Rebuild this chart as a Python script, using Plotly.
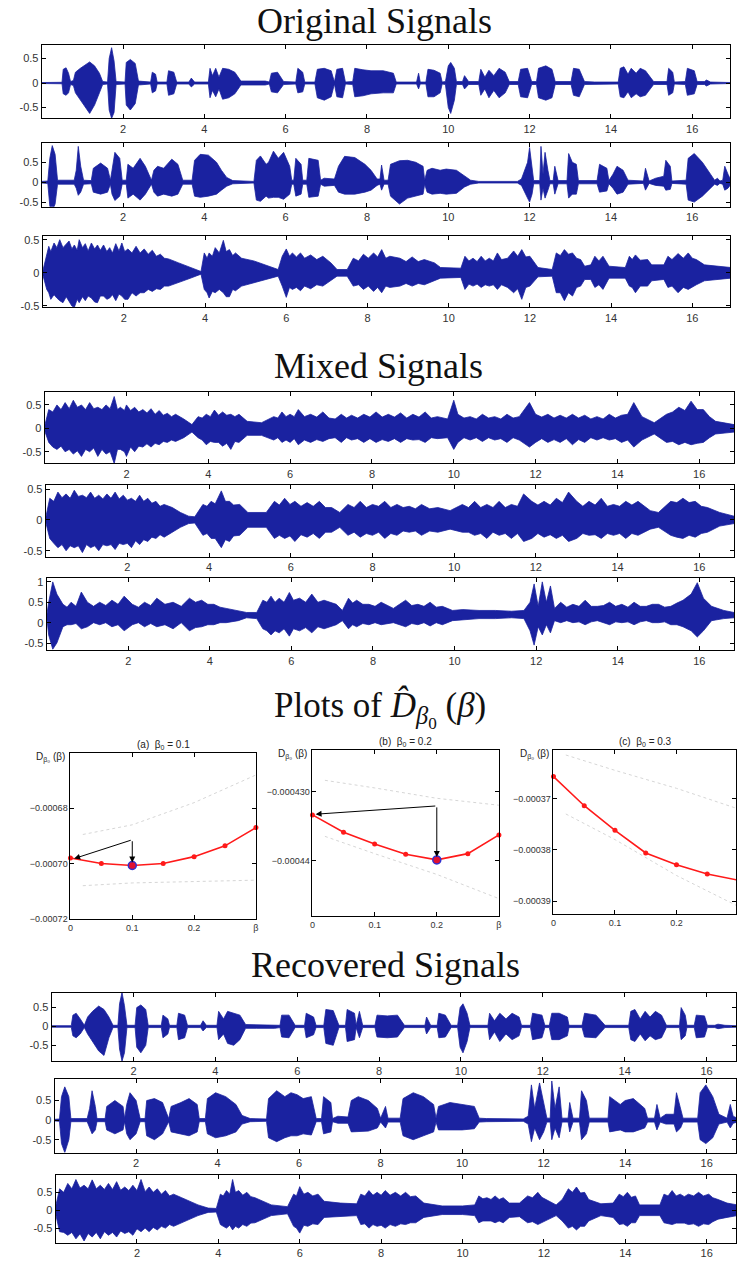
import plotly.graph_objects as go

W, H = 739, 1270
BLUE = "#1a22a0"
TICKFONT = dict(family="Liberation Sans, Arial", size=11, color="#333333")

# ---------------- data: signal envelopes (time s, upper, lower) -------------
O1 = [
(0.0,0.01,-0.01),(0.5,0.015,-0.015),(0.53,0.28,-0.22),(0.6,0.31,-0.25),(0.66,0.2,-0.2),(0.71,0.03,-0.03),
(0.78,0.05,-0.05),(0.83,0.22,-0.2),(0.95,0.3,-0.35),(1.08,0.38,-0.5),(1.18,0.43,-0.62),(1.3,0.35,-0.45),(1.42,0.2,-0.2),(1.5,0.03,-0.03),
(1.62,0.02,-0.02),(1.66,0.5,-0.55),(1.72,0.72,-0.72),(1.78,0.45,-0.6),(1.83,0.03,-0.03),
(2.05,0.02,-0.02),(2.08,0.42,-0.45),(2.18,0.48,-0.55),(2.3,0.4,-0.42),(2.38,0.04,-0.04),
(2.68,0.02,-0.02),(2.72,0.22,-0.2),(2.8,0.18,-0.16),(2.84,0.02,-0.02),
(3.08,0.02,-0.02),(3.12,0.25,-0.25),(3.25,0.22,-0.22),(3.32,0.02,-0.02),
(3.62,0.02,-0.02),(3.68,0.1,-0.08),(3.76,0.02,-0.02),
(4.1,0.02,-0.02),(4.14,0.3,-0.3),(4.2,0.15,-0.15),(4.28,0.3,-0.28),(4.36,0.12,-0.12),(4.45,0.3,-0.33),(4.6,0.28,-0.3),(4.75,0.22,-0.22),(4.9,0.04,-0.04),
(5.0,0.04,-0.04),(5.5,0.04,-0.04),(5.6,0.02,-0.02),(5.65,0.2,-0.18),(5.8,0.22,-0.2),(5.95,0.03,-0.03),
(6.25,0.02,-0.02),(6.3,0.3,-0.2),(6.42,0.22,-0.18),(6.47,0.02,-0.02),
(6.72,0.02,-0.02),(6.78,0.28,-0.3),(6.95,0.3,-0.35),(7.12,0.25,-0.28),(7.2,0.02,-0.02),
(7.26,0.28,-0.28),(7.4,0.3,-0.3),(7.47,0.02,-0.02),
(7.65,0.03,-0.03),(7.7,0.3,-0.28),(7.9,0.27,-0.26),(8.1,0.25,-0.22),(8.4,0.25,-0.2),(8.65,0.2,-0.2),(8.72,0.02,-0.02),
(9.22,0.02,-0.02),(9.27,0.2,-0.12),(9.31,0.02,-0.02),
(9.45,0.02,-0.02),(9.5,0.28,-0.28),(9.65,0.26,-0.28),(9.8,0.2,-0.2),(9.85,0.02,-0.02),
(9.93,0.03,-0.03),(10.0,0.35,-0.5),(10.06,0.42,-0.62),(10.15,0.3,-0.35),(10.2,0.03,-0.03),
(10.35,0.03,-0.03),(10.4,0.15,-0.12),(10.5,0.03,-0.03),
(10.75,0.03,-0.03),(10.8,0.28,-0.25),(10.9,0.12,-0.12),(11.0,0.26,-0.3),(11.12,0.15,-0.15),(11.25,0.3,-0.3),(11.4,0.22,-0.2),(11.5,0.03,-0.03),
(11.72,0.03,-0.03),(11.78,0.28,-0.28),(11.95,0.3,-0.3),(12.05,0.03,-0.03),
(12.17,0.03,-0.03),(12.22,0.3,-0.3),(12.4,0.35,-0.35),(12.55,0.28,-0.3),(12.63,0.03,-0.03),
(13.02,0.03,-0.03),(13.08,0.3,-0.25),(13.22,0.28,-0.28),(13.35,0.03,-0.03),
(13.6,0.02,-0.02),(14.18,0.02,-0.02),(14.23,0.3,-0.28),(14.32,0.33,-0.3),(14.42,0.18,-0.18),(14.5,0.3,-0.3),(14.62,0.2,-0.22),(14.72,0.3,-0.28),(14.85,0.25,-0.25),(15.05,0.03,-0.03),
(15.38,0.03,-0.03),(15.42,0.3,-0.25),(15.52,0.22,-0.2),(15.56,0.02,-0.02),
(15.83,0.03,-0.03),(15.88,0.3,-0.25),(16.05,0.25,-0.22),(16.12,0.03,-0.03),
(16.3,0.03,-0.03),(16.35,0.06,-0.06),(16.45,0.02,-0.02),(16.95,0.01,-0.01)]

O2 = [
(0.0,0.02,-0.02),(0.15,0.03,-0.03),(0.2,0.6,-0.6),(0.26,0.92,-0.72),(0.33,0.7,-0.55),(0.39,0.05,-0.05),
(0.8,0.05,-0.05),(0.85,0.3,-0.15),(0.9,0.9,-0.33),(0.96,0.4,-0.25),(1.03,0.05,-0.05),
(1.22,0.04,-0.04),(1.27,0.35,-0.25),(1.45,0.48,-0.3),(1.62,0.35,-0.25),(1.69,0.05,-0.05),
(1.73,0.3,-0.3),(1.8,0.75,-0.46),(1.92,0.6,-0.35),(1.98,0.05,-0.05),
(2.08,0.05,-0.05),(2.12,0.45,-0.4),(2.25,0.35,-0.3),(2.42,0.6,-0.45),(2.55,0.4,-0.3),(2.7,0.05,-0.05),
(2.76,0.3,-0.25),(2.85,0.4,-0.35),(3.0,0.35,-0.3),(3.2,0.58,-0.35),(3.35,0.45,-0.3),(3.47,0.05,-0.05),
(3.7,0.05,-0.05),(3.76,0.55,-0.35),(3.9,0.7,-0.38),(4.1,0.68,-0.35),(4.3,0.5,-0.3),(4.42,0.3,-0.2),(4.55,0.12,-0.1),(4.7,0.04,-0.04),
(5.22,0.02,-0.02),(5.28,0.55,-0.45),(5.38,0.66,-0.48),(5.52,0.45,-0.35),(5.58,0.5,-0.4),(5.7,0.78,-0.38),(5.82,0.6,-0.38),(5.95,0.75,-0.43),(6.1,0.4,-0.3),(6.15,0.05,-0.05),
(6.2,0.05,-0.05),(6.25,0.6,-0.35),(6.38,0.45,-0.3),(6.42,0.05,-0.05),
(6.52,0.05,-0.05),(6.57,0.6,-0.38),(6.8,0.55,-0.35),(6.86,0.05,-0.05),
(6.95,0.1,-0.1),(7.2,0.08,-0.08),(7.3,0.4,-0.25),(7.45,0.65,-0.3),(7.7,0.62,-0.3),(7.95,0.45,-0.25),(8.1,0.3,-0.2),(8.25,0.08,-0.08),
(8.32,0.08,-0.05),(8.36,0.43,-0.2),(8.42,0.05,-0.05),
(8.52,0.05,-0.05),(8.58,0.45,-0.35),(8.8,0.54,-0.55),(9.0,0.55,-0.4),(9.2,0.5,-0.35),(9.38,0.4,-0.3),(9.42,0.05,-0.05),
(9.48,0.3,-0.25),(9.6,0.35,-0.3),(9.8,0.3,-0.28),(9.95,0.33,-0.3),(10.2,0.3,-0.28),(10.4,0.15,-0.12),(10.55,0.05,-0.05),
(10.75,0.02,-0.02),(11.7,0.02,-0.02),(11.8,0.08,-0.08),(11.95,0.5,-0.4),(12.0,0.87,-0.5),(12.06,0.4,-0.3),(12.1,0.04,-0.04),
(12.25,0.04,-0.04),(12.28,0.9,-0.45),(12.33,0.2,-0.15),(12.38,0.75,-0.4),(12.45,0.3,-0.2),(12.5,0.04,-0.04),
(12.58,0.04,-0.04),(12.62,0.4,-0.3),(12.7,0.04,-0.04),
(12.92,0.04,-0.04),(12.96,0.72,-0.4),(13.05,0.5,-0.3),(13.15,0.45,-0.3),(13.2,0.04,-0.04),
(13.66,0.04,-0.04),(13.72,0.45,-0.25),(13.9,0.35,-0.22),(13.95,0.04,-0.04),
(14.05,0.2,-0.15),(14.15,0.4,-0.3),(14.3,0.3,-0.25),(14.42,0.05,-0.05),
(14.8,0.03,-0.03),(14.85,0.35,-0.2),(14.94,0.03,-0.03),
(15.1,0.1,-0.08),(15.3,0.15,-0.1),(15.35,0.55,-0.2),(15.46,0.4,-0.18),(15.5,0.03,-0.03),
(15.85,0.05,-0.05),(15.9,0.6,-0.45),(16.05,0.72,-0.5),(16.25,0.5,-0.35),(16.45,0.2,-0.15),(16.55,0.05,-0.05),
(16.62,0.1,-0.08),(16.68,0.03,-0.03),(16.75,0.05,-0.05),(16.8,0.4,-0.2),(16.88,0.2,-0.15),(16.95,0.05,-0.05)]

O3 = [
(0.0,0.02,-0.02),(0.1,0.25,-0.25),(0.15,0.4,-0.3),(0.2,0.32,-0.4),(0.28,0.45,-0.33),(0.35,0.38,-0.38),(0.42,0.5,-0.42),(0.5,0.38,-0.45),(0.58,0.44,-0.36),(0.65,0.48,-0.42),(0.72,0.36,-0.5),(0.78,0.42,-0.52),(0.85,0.34,-0.4),(0.9,0.5,-0.45),(0.98,0.38,-0.36),(1.05,0.44,-0.42),(1.12,0.33,-0.35),(1.2,0.45,-0.38),(1.28,0.36,-0.44),(1.35,0.42,-0.45),(1.42,0.34,-0.35),(1.5,0.42,-0.35),(1.58,0.32,-0.4),(1.65,0.38,-0.38),(1.72,0.3,-0.33),(1.8,0.44,-0.42),(1.88,0.33,-0.32),(1.95,0.45,-0.35),(2.02,0.32,-0.4),(2.1,0.36,-0.4),(2.2,0.3,-0.3),(2.3,0.4,-0.35),(2.4,0.3,-0.3),(2.5,0.36,-0.3),(2.6,0.28,-0.25),(2.7,0.34,-0.28),(2.8,0.25,-0.24),(2.9,0.28,-0.25),(3.0,0.22,-0.2),(3.1,0.21,-0.2),(3.35,0.15,-0.14),(3.6,0.09,-0.09),(3.9,0.02,-0.02),
(3.98,0.3,-0.25),(4.05,0.22,-0.3),(4.1,0.3,-0.38),(4.18,0.25,-0.28),(4.25,0.38,-0.3),(4.35,0.3,-0.25),(4.45,0.49,-0.3),(4.52,0.32,-0.36),(4.6,0.35,-0.36),(4.68,0.26,-0.25),(4.75,0.3,-0.27),(4.9,0.22,-0.2),(5.2,0.18,-0.15),(5.5,0.12,-0.1),(5.8,0.05,-0.05),
(5.9,0.25,-0.2),(6.0,0.36,-0.37),(6.08,0.25,-0.22),(6.15,0.3,-0.25),(6.25,0.24,-0.22),(6.35,0.3,-0.27),(6.45,0.22,-0.2),(6.6,0.27,-0.24),(6.75,0.2,-0.18),(6.9,0.25,-0.2),(7.1,0.15,-0.12),(7.25,0.05,-0.05),(7.5,0.05,-0.05),
(7.65,0.22,-0.2),(7.78,0.18,-0.18),(7.9,0.28,-0.25),(8.02,0.22,-0.2),(8.15,0.3,-0.28),(8.25,0.24,-0.22),(8.35,0.35,-0.3),(8.45,0.22,-0.2),(8.55,0.25,-0.22),(8.8,0.22,-0.2),(8.95,0.17,-0.16),(9.1,0.24,-0.2),(9.25,0.17,-0.16),(9.4,0.2,-0.18),(9.65,0.15,-0.12),(9.8,0.08,-0.08),(10.3,0.07,-0.07),
(10.4,0.25,-0.25),(10.5,0.18,-0.17),(10.6,0.22,-0.2),(10.7,0.17,-0.17),(10.8,0.25,-0.22),(10.9,0.18,-0.18),(11.0,0.22,-0.2),(11.1,0.18,-0.18),(11.2,0.3,-0.25),(11.3,0.2,-0.18),(11.45,0.22,-0.22),(11.6,0.33,-0.3),(11.7,0.25,-0.24),(11.8,0.35,-0.4),(11.9,0.24,-0.22),(12.0,0.25,-0.2),(12.2,0.08,-0.06),(12.55,0.05,-0.05),
(12.65,0.3,-0.3),(12.75,0.26,-0.3),(12.85,0.35,-0.42),(12.95,0.28,-0.3),(13.05,0.3,-0.35),(13.15,0.22,-0.22),(13.25,0.2,-0.2),(13.35,0.1,-0.1),(13.5,0.12,-0.1),(13.6,0.25,-0.22),(13.7,0.18,-0.18),(13.8,0.25,-0.25),(13.95,0.1,-0.08),(14.35,0.08,-0.08),
(14.45,0.25,-0.2),(14.52,0.2,-0.22),(14.6,0.27,-0.3),(14.72,0.19,-0.2),(14.9,0.2,-0.2),(15.0,0.12,-0.12),(15.3,0.12,-0.1),(15.4,0.25,-0.22),(15.5,0.2,-0.2),(15.65,0.29,-0.3),(15.78,0.22,-0.22),(15.9,0.3,-0.25),(16.0,0.22,-0.22),(16.1,0.2,-0.18),(16.3,0.12,-0.12),(16.6,0.1,-0.1),(16.95,0.08,-0.08)]

M1 = [
(0.0,0.05,-0.05),(0.1,0.4,-0.3),(0.2,0.35,-0.4),(0.3,0.5,-0.45),(0.4,0.4,-0.38),(0.5,0.55,-0.5),(0.6,0.42,-0.45),(0.7,0.6,-0.55),(0.8,0.45,-0.48),(0.9,0.5,-0.6),(1.0,0.4,-0.45),(1.1,0.55,-0.5),(1.2,0.42,-0.42),(1.3,0.45,-0.6),(1.4,0.4,-0.45),(1.5,0.5,-0.55),(1.6,0.42,-0.5),(1.7,0.68,-0.75),(1.78,0.4,-0.45),(1.85,0.45,-0.45),(1.95,0.38,-0.5),(2.0,0.5,-0.6),(2.1,0.38,-0.4),(2.2,0.45,-0.5),(2.3,0.35,-0.38),(2.4,0.4,-0.4),(2.5,0.33,-0.33),(2.6,0.42,-0.4),(2.7,0.3,-0.32),(2.8,0.38,-0.35),(2.9,0.28,-0.28),(3.0,0.32,-0.3),(3.1,0.25,-0.25),(3.2,0.3,-0.28),(3.4,0.2,-0.2),(3.6,0.08,-0.08),
(3.75,0.25,-0.2),(3.85,0.22,-0.25),(3.95,0.3,-0.35),(4.05,0.25,-0.28),(4.15,0.39,-0.3),(4.25,0.28,-0.3),(4.35,0.35,-0.38),(4.45,0.28,-0.32),(4.55,0.3,-0.45),(4.65,0.25,-0.28),(4.75,0.3,-0.3),(4.95,0.15,-0.15),(5.3,0.12,-0.15),
(5.6,0.25,-0.25),(5.7,0.22,-0.2),(5.8,0.35,-0.3),(5.9,0.25,-0.25),(6.0,0.3,-0.3),(6.1,0.25,-0.22),(6.2,0.4,-0.35),(6.35,0.25,-0.25),(6.5,0.3,-0.3),(6.65,0.24,-0.24),(6.8,0.35,-0.28),(6.95,0.22,-0.22),(7.1,0.2,-0.2),(7.25,0.3,-0.3),(7.38,0.22,-0.2),(7.5,0.28,-0.25),(7.65,0.22,-0.22),(7.8,0.3,-0.3),(7.95,0.24,-0.22),(8.1,0.35,-0.3),(8.25,0.24,-0.24),(8.4,0.3,-0.28),(8.55,0.24,-0.22),(8.7,0.33,-0.3),(8.85,0.22,-0.22),(9.0,0.3,-0.25),(9.15,0.24,-0.24),(9.3,0.35,-0.3),(9.45,0.22,-0.2),(9.6,0.25,-0.22),(9.85,0.2,-0.2),
(10.0,0.6,-0.45),(10.1,0.3,-0.3),(10.25,0.22,-0.2),(10.4,0.25,-0.25),(10.55,0.2,-0.2),(10.7,0.3,-0.28),(10.85,0.22,-0.2),(11.0,0.25,-0.25),(11.15,0.2,-0.22),(11.3,0.3,-0.3),(11.45,0.22,-0.2),(11.6,0.25,-0.25),(11.85,0.55,-0.4),(12.0,0.3,-0.3),(12.15,0.24,-0.22),(12.3,0.3,-0.3),(12.45,0.22,-0.24),(12.6,0.28,-0.3),(12.75,0.22,-0.22),(12.9,0.3,-0.35),(13.05,0.22,-0.24),(13.2,0.28,-0.3),(13.35,0.2,-0.2),(13.5,0.25,-0.25),(13.65,0.2,-0.2),(13.8,0.3,-0.25),(13.95,0.22,-0.22),(14.1,0.28,-0.3),(14.25,0.3,-0.25),(14.4,0.55,-0.4),(14.6,0.25,-0.25),(14.9,0.12,-0.12),(15.2,0.3,-0.3),(15.35,0.35,-0.28),(15.5,0.45,-0.35),(15.65,0.38,-0.3),(15.8,0.58,-0.35),(15.95,0.4,-0.32),(16.1,0.4,-0.3),(16.25,0.25,-0.2),(16.4,0.15,-0.12),(16.85,0.08,-0.08)]

M2 = [
(0.0,0.03,-0.03),(0.1,0.35,-0.3),(0.2,0.3,-0.38),(0.3,0.45,-0.45),(0.4,0.36,-0.4),(0.5,0.42,-0.5),(0.6,0.35,-0.42),(0.7,0.48,-0.45),(0.8,0.38,-0.42),(0.9,0.4,-0.53),(1.0,0.36,-0.4),(1.1,0.45,-0.45),(1.2,0.35,-0.42),(1.3,0.4,-0.5),(1.4,0.34,-0.4),(1.5,0.42,-0.42),(1.6,0.35,-0.4),(1.7,0.45,-0.48),(1.8,0.34,-0.38),(1.9,0.4,-0.4),(2.0,0.32,-0.38),(2.1,0.35,-0.45),(2.2,0.3,-0.34),(2.3,0.4,-0.4),(2.4,0.3,-0.32),(2.5,0.35,-0.35),(2.6,0.27,-0.28),(2.7,0.3,-0.3),(2.8,0.22,-0.24),(2.9,0.25,-0.28),(3.1,0.2,-0.2),(3.3,0.12,-0.12),(3.5,0.06,-0.06),(3.65,0.05,-0.05),
(3.85,0.25,-0.25),(3.95,0.22,-0.22),(4.05,0.3,-0.3),(4.15,0.26,-0.3),(4.3,0.47,-0.45),(4.4,0.3,-0.32),(4.5,0.3,-0.35),(4.6,0.24,-0.26),(4.75,0.25,-0.25),(4.95,0.12,-0.12),(5.4,0.12,-0.12),
(5.6,0.3,-0.3),(5.72,0.24,-0.25),(5.85,0.35,-0.3),(5.98,0.25,-0.26),(6.1,0.3,-0.35),(6.25,0.22,-0.24),(6.4,0.28,-0.28),(6.55,0.22,-0.22),(6.7,0.3,-0.3),(6.85,0.2,-0.2),(7.0,0.2,-0.2),(7.2,0.12,-0.12),(7.4,0.25,-0.25),(7.55,0.2,-0.2),(7.7,0.3,-0.28),(7.85,0.2,-0.22),(8.0,0.25,-0.25),(8.15,0.22,-0.2),(8.3,0.3,-0.3),(8.45,0.2,-0.22),(8.6,0.25,-0.25),(8.75,0.2,-0.18),(8.9,0.22,-0.2),(9.05,0.18,-0.18),(9.2,0.25,-0.25),(9.4,0.18,-0.18),(9.6,0.2,-0.2),(9.9,0.15,-0.15),
(10.2,0.25,-0.2),(10.35,0.2,-0.2),(10.5,0.3,-0.25),(10.65,0.2,-0.22),(10.8,0.25,-0.3),(10.95,0.2,-0.2),(11.1,0.3,-0.25),(11.25,0.2,-0.22),(11.4,0.25,-0.3),(11.55,0.22,-0.22),(11.7,0.42,-0.35),(11.9,0.3,-0.3),(12.05,0.24,-0.22),(12.2,0.3,-0.28),(12.35,0.24,-0.24),(12.5,0.35,-0.3),(12.65,0.28,-0.25),(12.8,0.45,-0.35),(13.0,0.3,-0.3),(13.15,0.22,-0.22),(13.3,0.3,-0.25),(13.45,0.24,-0.24),(13.6,0.35,-0.3),(13.75,0.22,-0.22),(13.9,0.25,-0.25),(14.05,0.22,-0.22),(14.2,0.3,-0.3),(14.35,0.24,-0.22),(14.5,0.3,-0.25),(14.8,0.15,-0.15),(15.0,0.12,-0.12),
(15.3,0.3,-0.25),(15.45,0.28,-0.28),(15.6,0.35,-0.3),(15.75,0.28,-0.25),(15.9,0.3,-0.28),(16.05,0.22,-0.22),(16.2,0.2,-0.2),(16.5,0.12,-0.1),(16.85,0.06,-0.06)]

M3 = [
(0.0,0.15,0.15),(0.05,0.5,-0.3),(0.15,1.0,-0.65),(0.25,0.7,-0.5),(0.4,0.45,-0.1),(0.5,0.38,-0.05),(0.6,0.5,-0.05),(0.72,0.4,-0.02),(0.85,0.75,-0.15),(1.0,0.5,-0.1),(1.15,0.4,0.0),(1.3,0.5,-0.05),(1.45,0.42,0.0),(1.6,0.55,-0.1),(1.75,0.45,-0.05),(1.9,0.65,-0.2),(2.1,0.45,-0.05),(2.25,0.38,0.0),(2.4,0.5,-0.1),(2.55,0.42,-0.02),(2.7,0.6,-0.1),(2.9,0.45,-0.05),(3.1,0.5,-0.15),(3.3,0.4,0.0),(3.5,0.6,-0.2),(3.65,0.5,-0.12),(3.8,0.55,-0.1),(3.95,0.45,-0.05),(4.1,0.45,-0.05),(4.25,0.38,0.0),(4.4,0.35,0.0),(4.7,0.3,0.05),(4.9,0.25,0.12),(5.15,0.25,0.1),
(5.3,0.55,-0.15),(5.4,0.5,-0.2),(5.5,0.65,-0.3),(5.6,0.5,-0.2),(5.7,0.6,-0.25),(5.82,0.5,-0.15),(5.95,0.74,-0.33),(6.05,0.55,-0.15),(6.2,0.6,-0.2),(6.35,0.5,-0.12),(6.5,0.7,-0.25),(6.65,0.5,-0.1),(6.8,0.55,-0.15),(7.1,0.45,-0.05),(7.25,0.3,0.05),(7.4,0.6,-0.15),(7.5,0.48,-0.05),(7.6,0.55,-0.1),(7.75,0.45,-0.02),(7.9,0.45,-0.05),(8.05,0.4,0.0),(8.2,0.5,-0.05),(8.5,0.35,0.0),(8.65,0.45,-0.05),(8.8,0.55,-0.1),(8.95,0.42,-0.02),(9.1,0.45,-0.05),(9.25,0.4,0.0),(9.4,0.5,-0.08),(9.55,0.38,0.0),(9.7,0.4,-0.05),(9.95,0.3,0.05),
(10.2,0.32,0.08),(10.6,0.3,0.1),(11.0,0.3,0.1),(11.4,0.28,0.12),(11.7,0.3,0.1),(11.85,0.5,-0.2),(11.95,0.95,-0.55),(12.05,0.4,-0.1),(12.15,1.0,-0.3),(12.25,0.5,-0.05),(12.35,0.9,-0.25),(12.45,0.35,0.05),(12.6,0.5,0.0),(12.75,0.38,0.05),(12.9,0.45,0.0),(13.05,0.4,0.02),(13.2,0.55,-0.05),(13.35,0.4,0.02),(13.5,0.4,0.05),(13.65,0.42,0.0),(13.8,0.5,-0.05),(13.95,0.4,0.02),(14.1,0.45,0.0),(14.25,0.38,0.02),(14.4,0.5,-0.05),(14.55,0.4,0.02),(14.7,0.4,0.05),(14.85,0.45,0.0),(15.0,0.45,0.0),(15.15,0.38,0.02),(15.3,0.4,-0.05),(15.45,0.48,-0.05),(15.6,0.55,-0.1),(15.8,0.7,-0.2),(15.95,0.98,-0.35),(16.1,0.6,-0.2),(16.3,0.4,0.05),(16.6,0.3,0.1),(16.85,0.25,0.12)]

R1 = [
(0.0,0.02,-0.02),(0.48,0.02,-0.02),(0.52,0.3,-0.25),(0.6,0.35,-0.3),(0.7,0.2,-0.2),(0.8,0.03,-0.03),
(0.88,0.25,-0.2),(1.0,0.4,-0.4),(1.15,0.54,-0.65),(1.28,0.45,-0.77),(1.4,0.25,-0.3),(1.5,0.03,-0.03),
(1.62,0.03,-0.03),(1.66,0.6,-0.6),(1.72,0.9,-0.92),(1.78,0.55,-0.7),(1.84,0.03,-0.03),
(2.04,0.03,-0.03),(2.08,0.5,-0.55),(2.18,0.57,-0.7),(2.3,0.45,-0.5),(2.36,0.03,-0.03),
(2.68,0.03,-0.03),(2.72,0.3,-0.3),(2.84,0.2,-0.2),(2.88,0.03,-0.03),
(3.06,0.03,-0.03),(3.1,0.35,-0.35),(3.25,0.3,-0.3),(3.32,0.03,-0.03),
(3.64,0.03,-0.03),(3.7,0.15,-0.12),(3.78,0.03,-0.03),
(4.04,0.03,-0.03),(4.08,0.4,-0.35),(4.2,0.2,-0.2),(4.3,0.4,-0.45),(4.45,0.35,-0.5),(4.6,0.3,-0.35),(4.74,0.05,-0.05),(5.0,0.05,-0.05),(5.45,0.05,-0.05),
(5.58,0.03,-0.03),(5.62,0.3,-0.28),(5.8,0.3,-0.3),(5.95,0.03,-0.03),
(6.18,0.03,-0.03),(6.22,0.35,-0.3),(6.4,0.25,-0.22),(6.46,0.03,-0.03),
(6.65,0.03,-0.03),(6.7,0.45,-0.45),(6.88,0.42,-0.5),(7.02,0.03,-0.03),
(7.18,0.03,-0.03),(7.22,0.45,-0.4),(7.4,0.35,-0.35),(7.44,0.03,-0.03),
(7.52,0.4,-0.3),(7.6,0.03,-0.03),
(7.9,0.03,-0.03),(7.95,0.3,-0.28),(8.2,0.28,-0.3),(8.45,0.3,-0.28),(8.62,0.03,-0.03),
(9.12,0.03,-0.03),(9.16,0.25,-0.2),(9.26,0.03,-0.03),
(9.42,0.03,-0.03),(9.46,0.35,-0.3),(9.62,0.3,-0.28),(9.76,0.03,-0.03),
(9.92,0.03,-0.03),(9.98,0.5,-0.55),(10.05,0.6,-0.7),(10.15,0.35,-0.4),(10.22,0.03,-0.03),
(10.66,0.03,-0.03),(10.7,0.35,-0.35),(10.82,0.15,-0.15),(10.95,0.35,-0.4),(11.1,0.2,-0.2),(11.25,0.35,-0.35),(11.42,0.25,-0.25),(11.48,0.03,-0.03),
(11.7,0.03,-0.03),(11.75,0.35,-0.35),(11.98,0.3,-0.3),(12.05,0.03,-0.03),
(12.16,0.03,-0.03),(12.22,0.35,-0.35),(12.4,0.35,-0.35),(12.6,0.25,-0.25),(12.64,0.03,-0.03),
(12.96,0.03,-0.03),(13.02,0.35,-0.28),(13.3,0.3,-0.3),(13.52,0.03,-0.03),
(14.1,0.03,-0.03),(14.15,0.4,-0.35),(14.25,0.45,-0.4),(14.38,0.2,-0.2),(14.5,0.4,-0.38),(14.62,0.25,-0.25),(14.75,0.4,-0.35),(14.9,0.3,-0.3),(15.02,0.03,-0.03),
(15.34,0.03,-0.03),(15.38,0.5,-0.35),(15.48,0.3,-0.25),(15.52,0.03,-0.03),
(15.7,0.03,-0.03),(15.75,0.3,-0.3),(15.95,0.28,-0.28),(16.02,0.03,-0.03),
(16.2,0.03,-0.03),(16.28,0.06,-0.06),(16.45,0.03,-0.03),(16.75,0.02,-0.02)]

R2 = [
(0.0,0.02,-0.02),(0.12,0.03,-0.03),(0.17,0.6,-0.6),(0.25,0.85,-0.83),(0.35,0.6,-0.5),(0.4,0.04,-0.04),
(0.8,0.04,-0.04),(0.86,0.3,-0.2),(0.92,0.75,-0.35),(1.0,0.35,-0.25),(1.04,0.04,-0.04),
(1.24,0.04,-0.04),(1.28,0.35,-0.25),(1.48,0.5,-0.35),(1.68,0.35,-0.25),(1.72,0.04,-0.04),
(1.77,0.4,-0.35),(1.85,0.7,-0.5),(2.0,0.5,-0.35),(2.1,0.04,-0.04),
(2.22,0.04,-0.04),(2.26,0.5,-0.4),(2.45,0.55,-0.5),(2.65,0.45,-0.35),(2.8,0.04,-0.04),
(2.86,0.35,-0.3),(3.1,0.45,-0.35),(3.3,0.55,-0.4),(3.5,0.4,-0.3),(3.55,0.04,-0.04),
(3.7,0.04,-0.04),(3.75,0.55,-0.35),(3.95,0.7,-0.45),(4.2,0.6,-0.4),(4.45,0.4,-0.3),(4.6,0.12,-0.1),(4.8,0.04,-0.04),(5.2,0.03,-0.03),
(5.25,0.55,-0.45),(5.45,0.75,-0.55),(5.65,0.6,-0.45),(5.8,0.7,-0.4),(5.95,0.65,-0.4),(6.1,0.55,-0.35),(6.3,0.6,-0.38),(6.42,0.04,-0.04),
(6.55,0.04,-0.04),(6.6,0.6,-0.35),(6.78,0.45,-0.3),(6.82,0.04,-0.04),
(6.95,0.1,-0.08),(7.2,0.08,-0.08),(7.28,0.5,-0.3),(7.45,0.6,-0.3),(7.7,0.5,-0.28),(7.92,0.3,-0.2),(8.0,0.05,-0.05),
(8.12,0.35,-0.2),(8.18,0.05,-0.05),
(8.48,0.05,-0.05),(8.55,0.55,-0.4),(8.8,0.7,-0.5),(9.05,0.6,-0.4),(9.3,0.4,-0.3),(9.36,0.05,-0.05),
(9.42,0.35,-0.25),(9.7,0.45,-0.25),(10.0,0.4,-0.25),(10.3,0.35,-0.22),(10.42,0.05,-0.05),(10.6,0.04,-0.04),
(11.5,0.03,-0.03),(11.62,0.1,-0.1),(11.7,0.9,-0.55),(11.78,0.3,-0.2),(11.9,0.95,-0.5),(12.0,0.4,-0.3),(12.08,0.05,-0.05),
(12.16,0.05,-0.05),(12.2,1.0,-0.5),(12.28,0.3,-0.2),(12.38,0.85,-0.45),(12.45,0.05,-0.05),
(12.6,0.05,-0.05),(12.64,0.45,-0.3),(12.72,0.05,-0.05),
(12.88,0.05,-0.05),(12.93,0.75,-0.5),(13.05,0.5,-0.35),(13.12,0.05,-0.05),
(13.58,0.05,-0.05),(13.62,0.6,-0.3),(13.88,0.4,-0.25),(14.0,0.5,-0.3),(14.2,0.55,-0.3),(14.48,0.3,-0.2),(14.55,0.05,-0.05),
(14.72,0.05,-0.05),(14.78,0.4,-0.25),(14.86,0.05,-0.05),
(15.0,0.15,-0.1),(15.2,0.15,-0.1),(15.26,0.7,-0.3),(15.36,0.3,-0.2),(15.42,0.05,-0.05),
(15.78,0.05,-0.05),(15.84,0.7,-0.5),(15.98,0.9,-0.6),(16.15,0.6,-0.45),(16.3,0.15,-0.1),
(16.5,0.05,-0.05),(16.58,0.4,-0.2),(16.65,0.1,-0.08),(16.75,0.05,-0.05)]

R3 = [
(0.0,0.1,-0.1),(0.1,0.6,-0.6),(0.2,0.5,-0.62),(0.3,0.75,-0.7),(0.4,0.6,-0.62),(0.5,0.86,-0.8),(0.6,0.62,-0.66),(0.7,0.7,-0.86),(0.8,0.6,-0.65),(0.9,0.85,-0.75),(1.0,0.6,-0.62),(1.1,0.7,-0.8),(1.2,0.58,-0.6),(1.3,0.75,-0.7),(1.4,0.58,-0.62),(1.5,0.8,-0.75),(1.6,0.56,-0.58),(1.7,0.65,-0.65),(1.8,0.55,-0.6),(1.9,0.7,-0.7),(2.0,0.55,-0.52),(2.1,0.86,-0.6),(2.2,0.52,-0.5),(2.3,0.65,-0.6),(2.4,0.5,-0.48),(2.5,0.6,-0.55),(2.6,0.45,-0.45),(2.7,0.55,-0.5),(2.8,0.4,-0.4),(2.9,0.45,-0.45),(3.1,0.35,-0.35),(3.3,0.25,-0.25),(3.5,0.15,-0.15),(3.75,0.06,-0.06),(3.95,0.05,-0.05),
(4.05,0.45,-0.4),(4.12,0.4,-0.45),(4.2,0.55,-0.5),(4.28,0.45,-0.42),(4.35,0.86,-0.55),(4.42,0.5,-0.45),(4.5,0.55,-0.5),(4.6,0.42,-0.4),(4.7,0.5,-0.45),(4.8,0.38,-0.36),(4.9,0.35,-0.35),(5.1,0.25,-0.25),(5.3,0.15,-0.15),(5.7,0.1,-0.1),
(5.85,0.45,-0.45),(5.92,0.4,-0.5),(6.0,0.66,-0.64),(6.1,0.45,-0.42),(6.2,0.5,-0.45),(6.32,0.4,-0.38),(6.45,0.45,-0.4),(6.6,0.25,-0.2),(7.0,0.2,-0.18),(7.4,0.18,-0.15),
(7.5,0.45,-0.4),(7.6,0.4,-0.38),(7.7,0.55,-0.5),(7.8,0.42,-0.4),(7.9,0.5,-0.45),(8.0,0.42,-0.42),(8.1,0.55,-0.5),(8.22,0.42,-0.4),(8.35,0.5,-0.45),(8.48,0.4,-0.38),(8.6,0.5,-0.4),(8.72,0.38,-0.35),(8.85,0.4,-0.35),(9.05,0.2,-0.2),(9.5,0.12,-0.12),(10.0,0.12,-0.12),(10.3,0.15,-0.15),
(10.4,0.4,-0.35),(10.5,0.32,-0.3),(10.6,0.35,-0.3),(10.7,0.3,-0.3),(10.8,0.4,-0.35),(10.9,0.3,-0.3),(11.0,0.35,-0.35),(11.15,0.2,-0.2),(11.4,0.2,-0.18),(11.6,0.4,-0.35),(11.72,0.35,-0.32),(11.85,0.5,-0.4),(11.95,0.36,-0.34),(12.05,0.3,-0.3),(12.3,0.15,-0.15),(12.45,0.3,-0.3),
(12.6,0.6,-0.5),(12.7,0.5,-0.45),(12.8,0.65,-0.55),(12.9,0.48,-0.45),(13.0,0.5,-0.45),(13.1,0.3,-0.3),(13.4,0.18,-0.15),(13.7,0.2,-0.2),(13.85,0.45,-0.4),(13.95,0.38,-0.38),(14.05,0.5,-0.45),(14.15,0.36,-0.35),(14.25,0.4,-0.35),(14.35,0.15,-0.15),(14.85,0.15,-0.15),
(14.95,0.45,-0.35),(15.05,0.4,-0.38),(15.15,0.55,-0.4),(15.25,0.4,-0.36),(15.35,0.45,-0.35),(15.45,0.38,-0.36),(15.55,0.45,-0.4),(15.68,0.4,-0.38),(15.8,0.5,-0.45),(15.92,0.4,-0.38),(16.05,0.45,-0.4),(16.15,0.35,-0.32),(16.28,0.3,-0.25),(16.5,0.2,-0.2),(16.75,0.15,-0.15)]

# ---------------- data: D-hat curves -------------
beta = [0, 0.05, 0.1, 0.15, 0.2, 0.25, 0.3]
Da = [-0.000698, -0.0007, -0.0007007, -0.0007, -0.0006975, -0.0006936, -0.000687]
Db = [-0.0004334, -0.0004359, -0.0004376, -0.0004391, -0.0004399, -0.000439, -0.0004363]
Dc = [-0.0003657, -0.0003714, -0.0003762, -0.0003806, -0.0003829, -0.0003847, -0.0003859]
beta0 = [0.1, 0.2, 0.3]
beta_dot = [0.02, 0.1, 0.2, 0.3]
Da_dot_hi = [-0.0006895, -0.000686, -0.000678, -0.000668]
Da_dot_lo = [-0.000708, -0.000707, -0.0007065, -0.000706]
Db_dot_hi = [-0.0004284, -0.0004295, -0.000431, -0.000432]
Db_dot_lo = [-0.0004365, -0.000439, -0.000442, -0.0004455]
Dc_dot_hi = [-0.0003615, -0.0003645, -0.000368, -0.000372]
Dc_dot_lo = [-0.000373, -0.000378, -0.000385, -0.000391]
time_ticks = [2, 4, 6, 8, 10, 12, 14, 16]

# ---------------- helpers -------------
fig = go.Figure()
axis_n = [0]

def new_axes(xpx, ypx, xr, yr, xtv, xtt, ytv, ytt, fs=11):
    axis_n[0] += 1
    i = axis_n[0]
    sx = "" if i == 1 else str(i)
    common = dict(showline=True, linecolor="black", linewidth=1, mirror="ticks",
                  ticks="inside", ticklen=4, tickcolor="black", showgrid=False,
                  zeroline=False, tickfont=dict(TICKFONT, size=fs))
    fig.layout["xaxis" + sx] = dict(common, domain=[xpx[0] / W, min(xpx[1] / W, 1.0)],
                                    range=xr, tickvals=xtv, ticktext=xtt, anchor="y" + sx)
    fig.layout["yaxis" + sx] = dict(common, domain=[1 - ypx[1] / H, 1 - ypx[0] / H],
                                    range=yr, tickvals=ytv, ticktext=ytt, anchor="x" + sx)
    return "x" + sx, "y" + sx


def signal_panel(data, xpx, ypx, xr, yr, ytv, ytt):
    xa, ya = new_axes(xpx, ypx, xr, yr, time_ticks, [str(v) for v in time_ticks], ytv, ytt)
    t, up, lo = zip(*data)
    fig.add_trace(go.Scatter(x=list(t) + list(t[::-1]), y=list(up) + list(lo[::-1]),
                             fill="toself", fillcolor=BLUE, mode="lines",
                             line=dict(color=BLUE, width=0.8), xaxis=xa, yaxis=ya,
                             hoverinfo="skip", showlegend=False))

Y3 = [-0.5, 0, 0.5]
Y3T = ["-0.5", "0", "0.5"]
signal_panel(O1, (39, 733), (43, 117), [0, 16.93], [-0.72, 0.78], Y3, Y3T)
signal_panel(O2, (39, 733), (142, 206), [0, 16.93], [-0.62, 0.98], Y3, Y3T)
signal_panel(O3, (40, 733), (235, 307), [0, 16.93], [-0.52, 0.56], Y3, Y3T)
signal_panel(M1, (42, 737), (392, 464), [0, 16.85], [-0.75, 0.78], Y3, Y3T)
signal_panel(M2, (43, 737), (486, 558), [0, 16.85], [-0.6, 0.56], Y3, Y3T)
signal_panel(M3, (44, 737), (579, 652), [0, 16.85], [-0.68, 1.1], [-0.5, 0, 0.5, 1], ["-0.5", "0", "0.5", "1"])
signal_panel(R1, (49, 739), (996, 1065), [0, 16.72], [-0.92, 0.9], Y3, Y3T)
signal_panel(R2, (52, 739), (1083, 1157), [0, 16.72], [-0.83, 1.05], Y3, Y3T)
signal_panel(R3, (53, 739), (1179, 1248), [0, 16.72], [-0.92, 1.0], Y3, Y3T)


def d_panel(vals, dhi, dlo, b0, xpx, ypx, xr, yr, ytv, ytt, title, arrows):
    xa, ya = new_axes(xpx, ypx, xr, yr, [0, 0.1, 0.2, 0.3], ["0", "0.1", "0.2", "β"], ytv, ytt, fs=9)
    for dd in (dhi, dlo):
        fig.add_trace(go.Scatter(x=beta_dot, y=dd, mode="lines",
                                 line=dict(color="#d6d6d6", width=1, dash="dot"),
                                 xaxis=xa, yaxis=ya, showlegend=False, hoverinfo="skip"))
    fig.add_trace(go.Scatter(x=beta, y=vals, mode="lines+markers", line=dict(color="#ff1a1a", width=1.6),
                             marker=dict(color="#ff1a1a", size=5), xaxis=xa, yaxis=ya, showlegend=False,
                             cliponaxis=False))
    k = beta.index(b0)
    fig.add_trace(go.Scatter(x=[b0], y=[vals[k]], mode="markers",
                             marker=dict(color="#e01030", size=8, line=dict(color="#3030d0", width=1.5)),
                             xaxis=xa, yaxis=ya, showlegend=False, cliponaxis=False))
    for (tx, ty, hx, hy) in arrows:
        fig.add_annotation(x=hx, y=hy, ax=tx, ay=ty, xref=xa, yref=ya, axref=xa, ayref=ya,
                           showarrow=True, arrowhead=2, arrowsize=1.2, arrowwidth=1,
                           arrowcolor="black", text="")
    cx = (xpx[0] + xpx[1]) / 2
    fig.add_annotation(x=cx / W, y=1 - (ypx[0] - 8) / H, xref="paper", yref="paper", showarrow=False,
                       xanchor="center", yanchor="middle", text=title,
                       font=dict(family="Liberation Sans, Arial", size=10, color="#222"))
    fig.add_annotation(x=(xpx[0] - 3) / W, y=1 - (ypx[0] + 5) / H, xref="paper", yref="paper",
                       showarrow=False, xanchor="right", yanchor="middle",
                       text="D<sub>β₀</sub> (β)",
                       font=dict(family="Liberation Sans, Arial", size=10, color="#222"))

d_panel(Da, Da_dot_hi, Da_dot_lo, beta0[0], (68, 255), (755, 922), [0, 0.3], [-0.00072, -0.00066],
        [-0.00072, -0.0007, -0.00068], ["−0.00072", "−0.00070", "−0.00068"], "(a)  β<sub>0</sub> = 0.1",
        [(0.1, -0.0006914, 0.1, -0.0006996), (0.1, -0.0006914, 0.006, -0.0006982)])
d_panel(Db, Db_dot_hi, Db_dot_lo, beta0[1], (312, 500), (752, 919), [0, 0.3], [-0.000448, -0.000424],
        [-0.00044, -0.00043], ["−0.00044", "−0.000430"], "(b)  β<sub>0</sub> = 0.2",
        [(0.2, -0.0004321, 0.2, -0.0004395), (0.2, -0.0004321, 0.005, -0.0004333)])
d_panel(Dc, Dc_dot_hi, Dc_dot_lo, beta0[2], (555, 741), (752, 917), [0, 0.2968], [-0.0003925, -0.0003605],
        [-0.00039, -0.00038, -0.00037], ["−0.00039", "−0.00038", "−0.00037"], "(c)  β<sub>0</sub> = 0.3", [])


def section_title(text, cx, cy, size):
    fig.add_annotation(x=cx / W, y=1 - cy / H, xref="paper", yref="paper", showarrow=False,
                       xanchor="center", yanchor="middle", text=text,
                       font=dict(family="Liberation Serif, Times New Roman", size=size, color="#111"))

section_title("Original Signals", 375, 19, 36)
section_title("Mixed Signals", 379, 366, 36)
section_title("Plots of <i>D̂</i><sub><i>β</i><sub>0</sub></sub> (<i>β</i>)", 380, 711, 35)
section_title("Recovered Signals", 386, 968, 36)

fig.update_layout(width=W, height=H, margin=dict(l=0, r=0, t=0, b=0),
                  paper_bgcolor="white", plot_bgcolor="white", showlegend=False)
fig.write_html("out.html")
